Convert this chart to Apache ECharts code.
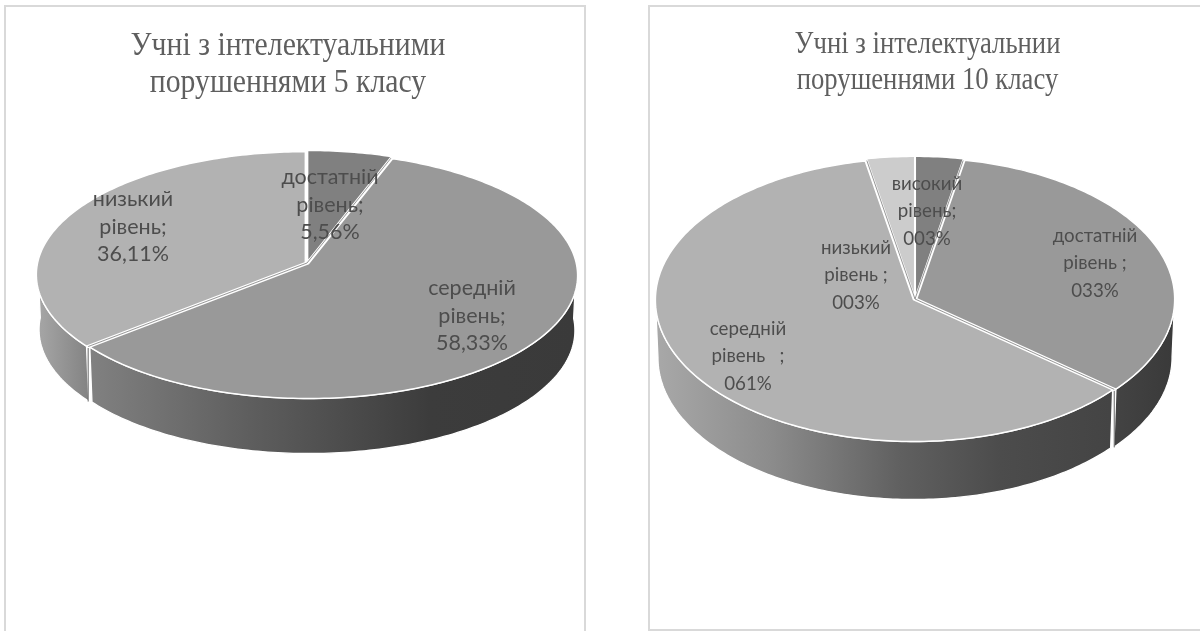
<!DOCTYPE html>
<html lang="uk">
<head>
<meta charset="utf-8">
<style>html,body{margin:0;padding:0;background:#fff}#chart{width:1200px;height:631px}</style>
<script src="https://cdn.jsdelivr.net/npm/echarts@6/dist/echarts.min.js"></script>
</head>
<body>
<div id="chart"></div>
<script>
// Values in percent, clockwise from twelve o'clock
const class5Levels = ['достатній рівень', 'середній рівень', 'низький рівень'];
const class5Values = [5.56, 58.33, 36.11];
const class5Labels = [['достатній', 'рівень;', '5,56%'], ['середній', 'рівень;', '58,33%'], ['низький', 'рівень;', '36,11%']];

const class10Levels = ['високий рівень', 'достатній рівень', 'середній рівень', 'низький рівень'];
const class10Values = [3, 33, 61, 3];
const class10Labels = [['високий', 'рівень;', '003%'], ['достатній', 'рівень ;', '033%'], ['середній', 'рівень   ;', '061%'], ['низький', 'рівень ;', '003%']];

const class5Title = 'Учні з інтелектуальними\nпорушеннями 5 класу';
const class10Title = 'Учні з інтелектуальнии\nпорушеннями 10 класу';

// Disc geometry and shading for each pie
const pies = [
  {
    levels: class5Levels, values: class5Values, labels: class5Labels,
    apex: [307, 263], top: 152, bottom: 398, halfWidth: 269, depth: 55,
    topColors: ['#808080', '#999999', '#b2b2b2'],
    labelAt: [[330, 205], [472, 316], [133, 227]],
    labelSize: 21.5, labelScaleX: 1,
    sideStops: [[38, '#a6a6a6'], [93, '#808080'], [250, '#5e5e5e'], [430, '#3c3c3c'], [577, '#3a3a3a']]
  },
  {
    levels: class10Levels, values: class10Values, labels: class10Labels,
    apex: [915, 299], top: 158, bottom: 441, halfWidth: 258, depth: 58,
    topColors: ['#808080', '#999999', '#b2b2b2', '#cccccc'],
    labelAt: [[927, 211], [1095, 263], [748, 356], [856, 275]],
    labelSize: 19.5, labelScaleX: 0.96,
    sideStops: [[657, '#a8a8a8'], [770, '#8c8c8c'], [900, '#606060'], [1000, '#4c4c4c'], [1110, '#444444'], [1172, '#3a3a3a']]
  }
];

const LABEL_FONT = 'Lato, "Noto Sans", sans-serif';
const TITLE_FONT = '"Liberation Serif", serif';
const STEP = 1;          // degrees between outline samples
const EXPLODE = 1.7;     // how far each slice is pulled from the apex
const BASE_NARROW = 0.99; // the lower rim recedes slightly

// Perspective projection of the unit disc on to the page, so that the
// apex sits above the middle of the outer ellipse
function projector(pie) {
  const a = pie.apex[1] - pie.top;
  const b = pie.bottom - pie.apex[1];
  const k = (a - b) / (a + b);
  const scaleY = a * (1 - k);
  const scaleX = pie.halfWidth * Math.sqrt(1 - k * k);
  return function (deg) {
    const t = deg * Math.PI / 180;
    const u = Math.sin(t);
    const v = -Math.cos(t);
    const w = 1 + k * v;
    return [pie.apex[0] + scaleX * u / w, pie.apex[1] + scaleY * v / w];
  };
}

function spans(values) {
  const total = values.reduce((s, x) => s + x, 0);
  let acc = 0;
  return values.map(x => {
    const start = acc / total * 360;
    acc += x;
    return [start, acc / total * 360];
  });
}

function arc(project, from, to, dx, dy) {
  const pts = [];
  for (let d = from; d < to; d += STEP) {
    const p = project(d);
    pts.push([p[0] + dx, p[1] + dy]);
  }
  const p = project(to);
  pts.push([p[0] + dx, p[1] + dy]);
  return pts;
}

function sideGradient(pie) {
  const stops = pie.sideStops;
  const x0 = stops[0][0];
  const x1 = stops[stops.length - 1][0];
  return new echarts.graphic.LinearGradient(x0, 0, x1, 0,
    stops.map(s => ({ offset: (s[0] - x0) / (x1 - x0), color: s[1] })), true);
}

// One custom series per pie; each data item draws its wall, its top and its label
function pieSeries(pie) {
  const project = projector(pie);
  const ranges = spans(pie.values);
  const cx = pie.apex[0];
  return {
    type: 'custom',
    coordinateSystem: 'none',
    silent: true,
    animation: false,
    clip: false,
    data: pie.values.map((v, i) => ({ name: pie.levels[i], value: [v, i] })),
    renderItem: function (params, api) {
      const i = api.value(1);
      const range = ranges[i];
      const mid = project((range[0] + range[1]) / 2);
      const ox = mid[0] - cx;
      const oy = mid[1] - pie.apex[1];
      const len = Math.hypot(ox, oy);
      const dx = ox / len * EXPLODE;
      const dy = oy / len * EXPLODE;
      const lowerRim = pts => pts.map(p => [cx + (p[0] - cx) * BASE_NARROW, p[1] + pie.depth]);
      const children = [];

      // Wall: only the part of the rim facing the viewer
      const from = Math.max(range[0], 90);
      const to = Math.min(range[1], 270);
      if (to > from) {
        const upper = arc(project, from, to, dx, dy);
        const lower = lowerRim(upper).reverse();
        children.push({
          type: 'polygon', z2: 1,
          shape: { points: upper.concat(lower) },
          style: { fill: sideGradient(pie), stroke: '#ffffff', lineWidth: 1.3 }
        });
      }

      // Top face
      const rim = arc(project, range[0], range[1], dx, dy);
      children.push({
        type: 'polygon', z2: 2,
        shape: { points: [[cx + dx, pie.apex[1] + dy]].concat(rim) },
        style: { fill: pie.topColors[i], stroke: '#ffffff', lineWidth: 1.5 }
      });

      // Thin shaded line inside the white gap that opens this slice
      if (range[0] > 0) {
        const edge = project(range[0]);
        children.push({
          type: 'line', z2: 3,
          shape: { x1: cx, y1: pie.apex[1], x2: edge[0], y2: edge[1] },
          style: { stroke: '#8c8c8c', lineWidth: 0.9 }
        });
        if (range[0] > 90 && range[0] < 270) {
          children.push({
            type: 'line', z2: 3,
            shape: { x1: edge[0], y1: edge[1] + 1.5, x2: edge[0], y2: edge[1] + pie.depth },
            style: { stroke: '#555555', lineWidth: 0.9 }
          });
        }
      }

      // Label
      children.push({
        type: 'text', z2: 10,
        x: pie.labelAt[i][0], y: pie.labelAt[i][1],
        scaleX: pie.labelScaleX,
        style: {
          text: pie.labels[i].join('\n'),
          font: pie.labelSize + 'px ' + LABEL_FONT,
          lineHeight: 27.5,
          fill: '#4d4d4d',
          align: 'center',
          verticalAlign: 'middle'
        }
      });
      return { type: 'group', children: children };
    }
  };
}

const chart = echarts.init(document.getElementById('chart'), null, { renderer: 'canvas' });
chart.setOption({
  backgroundColor: '#ffffff',
  animation: false,
  graphic: [
    { type: 'rect', z: 0, shape: { x: 5, y: 6, width: 580, height: 640 }, style: { fill: 'none', stroke: '#d9d9d9', lineWidth: 2 } },
    { type: 'rect', z: 0, shape: { x: 649, y: 6, width: 570, height: 624 }, style: { fill: 'none', stroke: '#d9d9d9', lineWidth: 2 } },
    {
      type: 'text', z: 5, x: 288, y: 65, scaleX: 0.875,
      style: { text: class5Title, font: '34px ' + TITLE_FONT, lineHeight: 37, fill: '#5f5f5f', align: 'center', verticalAlign: 'middle' }
    },
    {
      type: 'text', z: 5, x: 927.5, y: 63, scaleX: 0.835,
      style: { text: class10Title, font: '32px ' + TITLE_FONT, lineHeight: 36, fill: '#5f5f5f', align: 'center', verticalAlign: 'middle' }
    }
  ],
  series: pies.map(pieSeries)
});
</script>
</body>
</html>
